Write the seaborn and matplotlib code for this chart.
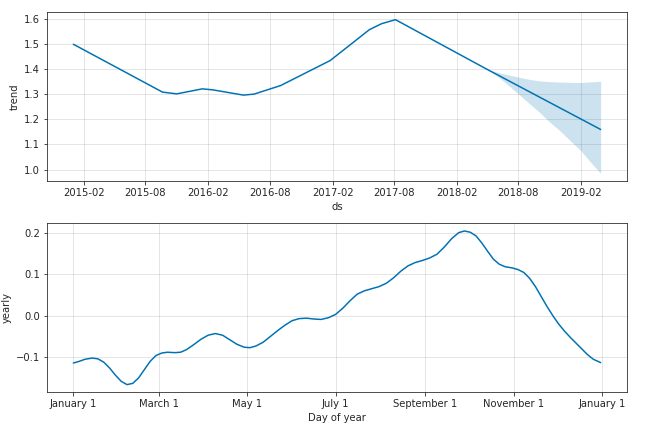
import pandas as pd
import matplotlib
matplotlib.use('Agg')
import matplotlib.pyplot as plt
import matplotlib.dates as mdates
import seaborn as sns

# trend component (piecewise linear)
trend_dates = ['2015-01-01', '2015-09-20', '2015-11-01', '2016-01-15', '2016-02-15',
               '2016-05-15', '2016-06-15', '2016-09-01', '2017-01-25', '2017-05-20',
               '2017-06-25', '2017-08-05', '2018-05-01', '2019-03-31']
trend_vals = [1.500, 1.309, 1.302, 1.322, 1.318,
              1.297, 1.301, 1.335, 1.435, 1.558,
              1.582, 1.598, 1.400, 1.160]

# uncertainty band of the forecast part
band_dates = ['2018-05-01', '2018-06-01', '2018-07-01', '2018-08-01', '2018-09-01', '2018-10-01',
              '2018-11-01', '2018-12-01', '2019-01-01', '2019-02-01', '2019-03-01', '2019-03-31']
band_upper = [1.400, 1.388, 1.378, 1.369, 1.360, 1.354, 1.351, 1.349, 1.348, 1.347, 1.350, 1.352]
band_lower = [1.400, 1.372, 1.338, 1.302, 1.265, 1.230, 1.190, 1.155, 1.115, 1.075, 1.030, 0.985]

# yearly seasonality (day of year -> value)
yearly_days = [0, 4, 8, 13, 17, 21, 25, 29, 33, 37, 41, 45, 49, 53, 57, 61, 65, 70, 74, 78,
               83, 88, 93, 98, 103, 108, 113, 118, 122, 126, 131, 136, 141, 146, 151, 156,
               161, 166, 171, 176, 181, 186, 191, 196, 201, 206, 211, 216, 221, 226, 231,
               236, 241, 246, 251, 256, 261, 266, 270, 274, 278, 282, 286, 290, 294, 298,
               303, 307, 311, 315, 319, 323, 327, 331, 335, 339, 343, 347, 351, 355, 359, 364]
yearly_vals = [-0.114, -0.110, -0.105, -0.102, -0.104, -0.112, -0.126, -0.143, -0.158, -0.166,
               -0.163, -0.150, -0.130, -0.110, -0.096, -0.090, -0.088, -0.089, -0.088, -0.082,
               -0.070, -0.057, -0.047, -0.043, -0.047, -0.058, -0.069, -0.076, -0.077, -0.073,
               -0.064, -0.050, -0.036, -0.023, -0.012, -0.007, -0.006, -0.008, -0.009, -0.005,
               0.003, 0.018, 0.036, 0.052, 0.060, 0.065, 0.070, 0.078, 0.091, 0.107, 0.120,
               0.128, 0.133, 0.139, 0.148, 0.165, 0.185, 0.200, 0.204, 0.201, 0.192, 0.175,
               0.155, 0.136, 0.124, 0.118, 0.115, 0.111, 0.104, 0.090, 0.070, 0.046, 0.022,
               0.000, -0.020, -0.037, -0.052, -0.066, -0.080, -0.094, -0.105, -0.113]

sns.set_style('ticks')
plt.rcParams['font.family'] = ['DejaVu Sans']
plt.rcParams['font.size'] = 10

line_color = '#0072B2'

trend_df = pd.DataFrame({'ds': pd.to_datetime(trend_dates), 'trend': trend_vals})
band_df = pd.DataFrame({'ds': pd.to_datetime(band_dates), 'upper': band_upper, 'lower': band_lower})
yearly_df = pd.DataFrame({
    'ds': pd.Timestamp('2017-01-01') + pd.to_timedelta(yearly_days, unit='D'),
    'yearly': yearly_vals,
})

fig = plt.figure(figsize=(645 / 72, 435 / 72), dpi=72)
ax1 = fig.add_axes([47 / 645, 1 - 181 / 435, 580 / 645, 169 / 435])
ax2 = fig.add_axes([47 / 645, 1 - 392.3 / 435, 580 / 645, 169 / 435])

# Trend panel
sns.lineplot(data=trend_df, x='ds', y='trend', ax=ax1, color=line_color, linewidth=1.5)
ax1.fill_between(band_df['ds'], band_df['lower'], band_df['upper'], color=line_color, alpha=0.2, linewidth=0)
ax1.xaxis.set_major_locator(mdates.MonthLocator(bymonth=[2, 8]))
ax1.xaxis.set_major_formatter(mdates.DateFormatter('%Y-%m'))
ax1.grid(True, which='major', c='gray', ls='-', lw=1, alpha=0.2)
ax1.set_xlabel('ds')
ax1.set_ylabel('trend')

# Yearly panel
sns.lineplot(data=yearly_df, x='ds', y='yearly', ax=ax2, color=line_color, linewidth=1.5)
ax2.xaxis.set_major_locator(mdates.MonthLocator(bymonth=[1, 3, 5, 7, 9, 11]))
ax2.xaxis.set_major_formatter(plt.FuncFormatter(
    lambda x, pos: '{:%B} {}'.format(mdates.num2date(x), mdates.num2date(x).day)))
ax2.grid(True, which='major', c='gray', ls='-', lw=1, alpha=0.2)
ax2.set_xlabel('Day of year')
ax2.set_ylabel('yearly')

for ax in (ax1, ax2):
    for s in ax.spines.values():
        s.set_color('#262626')

fig.savefig('out.png', dpi=72)
